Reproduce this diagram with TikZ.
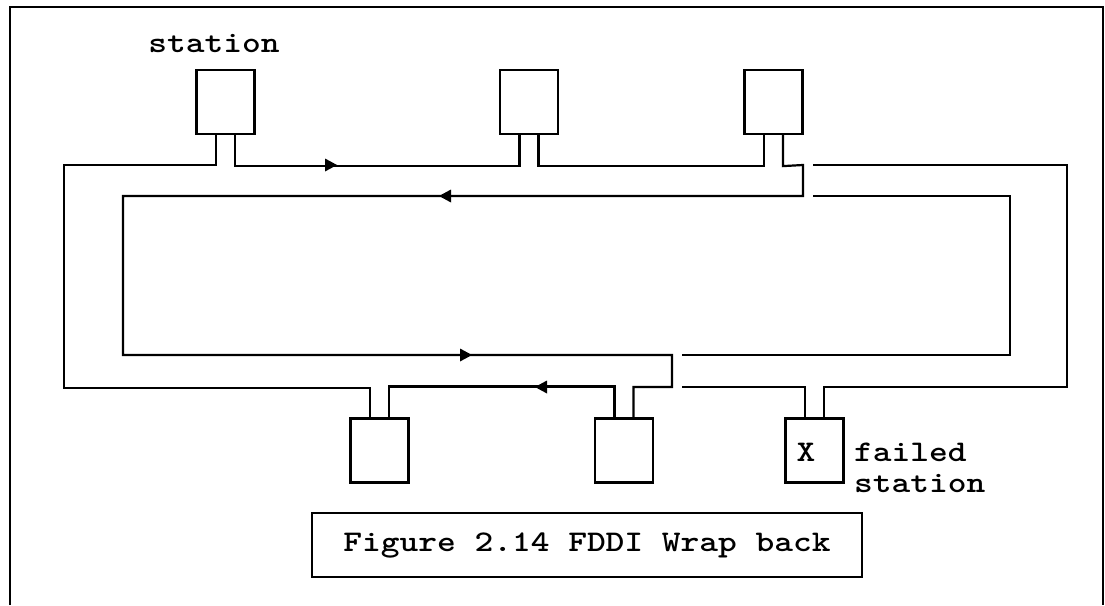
\documentclass[tikz,border=0pt]{standalone}
\usepackage{fontspec}
\usepackage{graphicx}
\usetikzlibrary{calc}
\newcommand{\cour}[1]{\scalebox{1.19}[1]{\ttfamily\bfseries\fontsize{30}{32}\selectfont #1}}
\begin{document}
\begin{tikzpicture}[x=1pt,y=-1pt,line width=2.2pt,line join=miter,
  stn/.style={draw,minimum width=58pt,minimum height=64pt,inner sep=0pt},
  lbl/.style={inner sep=0pt},
  arrR/.pic={\fill (-6,-6.5) -- (6,0) -- (-6,6.5) -- cycle;},
  arrL/.pic={\fill (6,-6.5) -- (-6,0) -- (6,6.5) -- cycle;}]
\useasboundingbox (0,0) rectangle (1105,605);
% frame
\draw[line width=1.6pt] (10,605) -- (10,7) -- (1103,7) -- (1103,605);
% stations
\node[stn] (s1) at (225.5,102) {};
\node[stn] (s2) at (529,102) {};
\node[stn] (s3) at (773.5,102) {};
\node[stn] (s4) at (379.5,450.5) {};
\node[stn] (s5) at (624,450.5) {};
\node[stn] (sf) at (814.5,450.5) {};
\foreach \s in {s1,s2,s3}{
  \coordinate (\s L) at ($(\s.south)+(-9.5,0)$);
  \coordinate (\s R) at ($(\s.south)+(9.5,0)$);}
\foreach \s in {s4,s5,sf}{
  \coordinate (\s L) at ($(\s.north)+(-9.5,0)$);
  \coordinate (\s R) at ($(\s.north)+(9.5,0)$);}
% ring
\draw (s1L) |- (64,165) -- (64,388) -| (s4L);
\draw (s1R) -- ++(0,31) -| (s2L);
\draw (s2R) -- ++(0,31) -| (s3L);
\draw (s3R) -- ++(0,31) -- (803,165) -- (803,196) -- (123,196) -- (123,355) -- (672,355) -- (672,387) -| (s5R);
\draw (s5L) -- ++(0,-31) -| (s4R);
\draw (813,165) -- (1067,165) -- (1067,387) -| (sfR);
\draw (813,196) -- (1010,196) -- (1010,355) -- (682,355);
\draw (682,387) -| (sfL);
% arrows
\pic at (331,165) {arrR};
\pic at (445,196) {arrL};
\pic at (466,355) {arrR};
\pic at (541,387) {arrL};
% texts
\node[lbl,anchor=base] (tst) at (214,52) {\cour{station}};
\node[lbl,anchor=base] (tx) at (806,461) {\cour{X}};
\node[lbl,anchor=base west] (tf1) at (853,461) {\cour{failed}};
\node[lbl,anchor=base west] (tf2) at (853,492) {\cour{station}};
\node[draw,minimum width=550pt,minimum height=64pt,inner sep=0pt] (cap) at (587,545) {\raisebox{-1pt}{\cour{Figure 2.14 FDDI Wrap back}}};
\end{tikzpicture}
\end{document}
